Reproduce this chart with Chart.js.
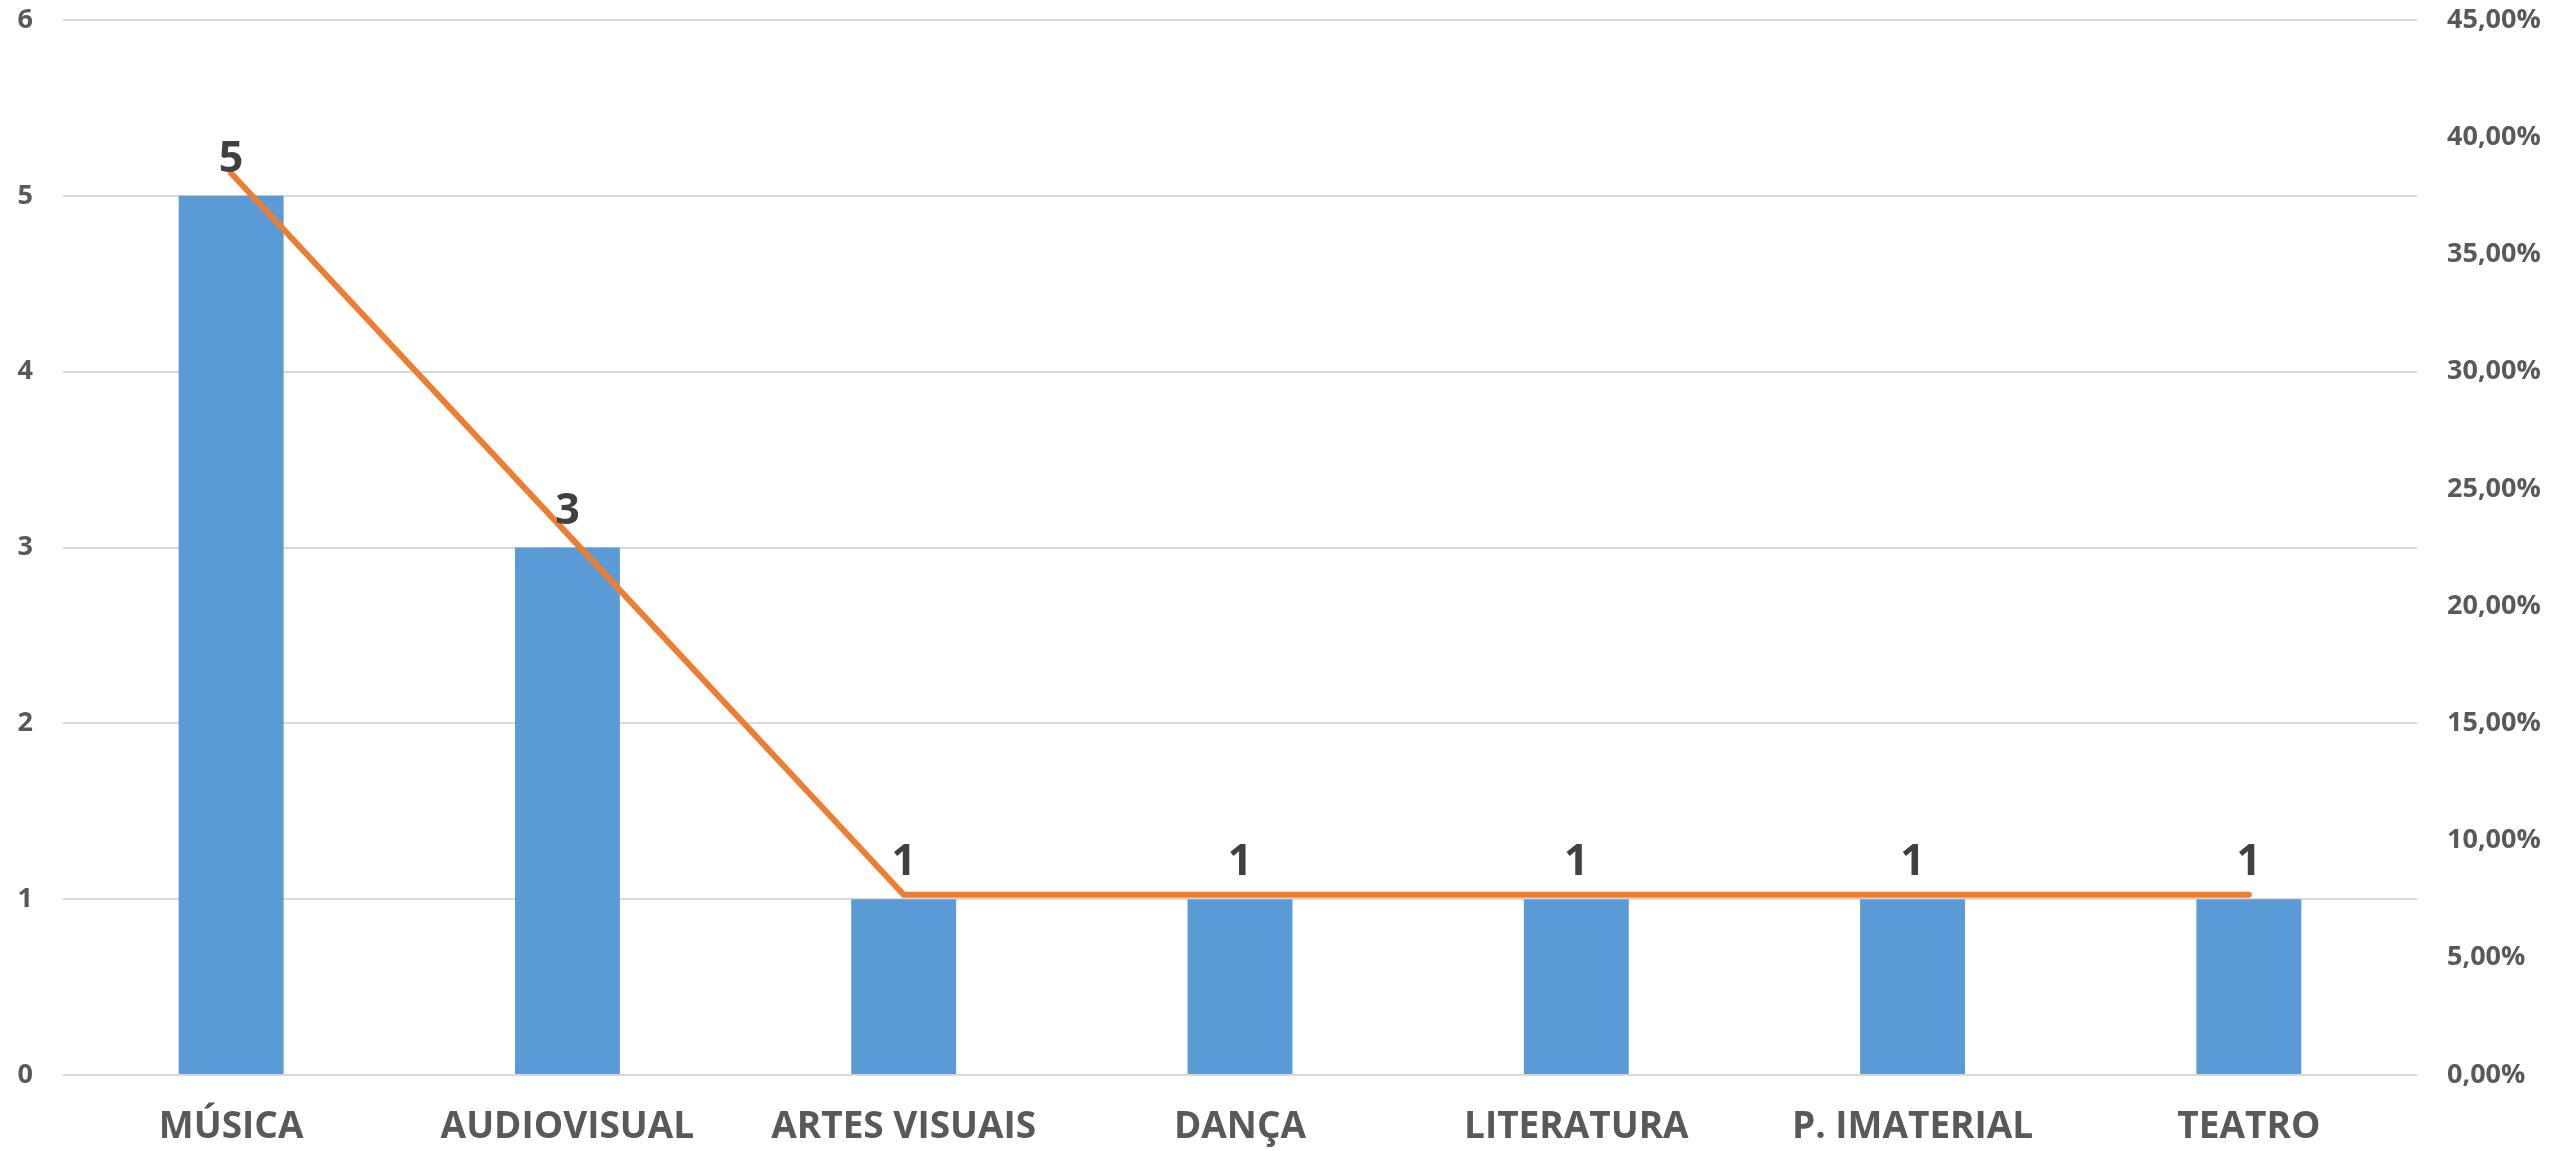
<!DOCTYPE html>
<html>
<head>
<meta charset="utf-8">
<script src="https://cdn.jsdelivr.net/npm/chart.js@4/dist/chart.umd.min.js"></script>
<style>
  html, body { margin: 0; padding: 0; background: #fff; }
</style>
</head>
<body>
<canvas id="myChart" width="2552" height="1151"></canvas>
<script>
var categories = ['MÚSICA', 'AUDIOVISUAL', 'ARTES VISUAIS', 'DANÇA', 'LITERATURA', 'P. IMATERIAL', 'TEATRO'];
var counts = [5, 3, 1, 1, 1, 1, 1];
var percents = [38.46, 23.08, 7.69, 7.69, 7.69, 7.69, 7.69];

// value labels above the bars
var barLabels = {
    id: 'barLabels',
    afterDatasetsDraw: function(chart) {
        var ctx = chart.ctx;
        var meta = chart.getDatasetMeta(1);
        ctx.save();
        ctx.font = 'bold 43px "Open Sans"';
        ctx.fillStyle = '#404040';
        ctx.textAlign = 'center';
        ctx.textBaseline = 'alphabetic';
        meta.data.forEach(function(bar, i) {
            ctx.fillText(counts[i], bar.x, bar.y - 24);
        });
        ctx.restore();
    }
};

var ctx = document.getElementById('myChart').getContext('2d');
var myChart = new Chart(ctx, {
    type: 'bar',
    data: {
        labels: categories,
        datasets: [{
            type: 'line',
            data: percents,
            yAxisID: 'y1',
            borderColor: '#ED7D31',
            borderWidth: 6,
            borderCapStyle: 'round',
            pointRadius: 0,
            tension: 0,
            order: 1
        }, {
            type: 'bar',
            data: counts,
            yAxisID: 'y',
            backgroundColor: '#5B9BD5',
            categoryPercentage: 1,
            barPercentage: 0.312,
            order: 2
        }]
    },
    options: {
        responsive: false,
        animation: false,
        layout: {
            padding: { top: 20, right: 0, left: 0, bottom: 0 }
        },
        plugins: {
            legend: { display: false },
            tooltip: { enabled: false }
        },
        scales: {
            x: {
                grid: { display: false, drawTicks: false },
                border: { display: false },
                ticks: {
                    color: '#595959',
                    font: { family: 'Open Sans', size: 37, weight: 'bold' },
                    padding: 30,
                    maxRotation: 0
                },
                afterFit: function(scale) { scale.height = 76; }
            },
            y: {
                position: 'left',
                min: 0,
                max: 6,
                ticks: {
                    stepSize: 1,
                    color: '#595959',
                    font: { family: 'Open Sans', size: 27, weight: 'bold' },
                    padding: 0
                },
                grid: { color: '#D9D9D9', lineWidth: 2, drawTicks: true, tickLength: 30, tickColor: 'rgba(0,0,0,0)' },
                border: { display: false },
                afterFit: function(scale) { scale.width = 63; }
            },
            y1: {
                position: 'right',
                min: 0,
                max: 45,
                ticks: {
                    stepSize: 5,
                    color: '#595959',
                    font: { family: 'Open Sans', size: 27, weight: 'bold' },
                    padding: 0,
                    callback: function(v) { return v.toFixed(2).replace('.', ',') + '%'; }
                },
                grid: { drawOnChartArea: false, drawTicks: true, tickLength: 30, tickColor: 'rgba(0,0,0,0)' },
                border: { display: false },
                afterFit: function(scale) { scale.width = 135; }
            }
        }
    },
    plugins: [barLabels]
});
</script>
</body>
</html>
